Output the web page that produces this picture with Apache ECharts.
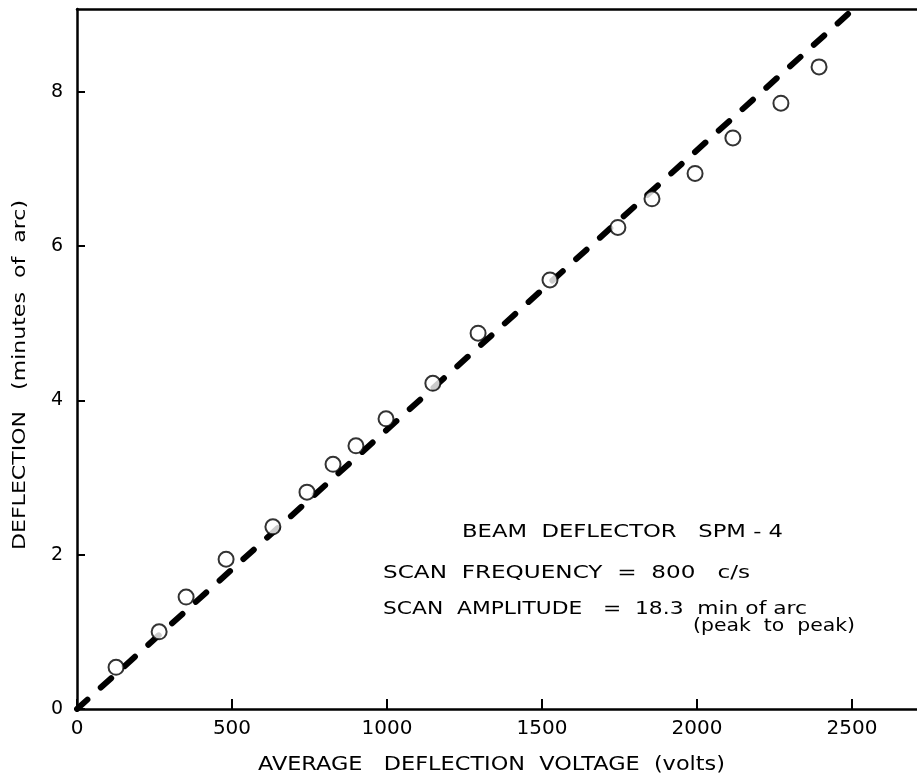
<!DOCTYPE html>
<html>
<head>
<meta charset="utf-8">
<script src="https://cdn.jsdelivr.net/npm/echarts@6/dist/echarts.min.js"></script>
<style>
  html, body { margin: 0; padding: 0; background: #fff; }
  #chart { width: 917px; height: 775px; }
</style>
</head>
<body>
<div id="chart"></div>
<script>
// Measured beam deflection vs. average deflection voltage
const voltage = [126, 265, 352, 481, 632, 742, 826, 900, 997, 1148, 1294, 1526, 1745, 1855, 1994, 2116, 2271, 2394];
const deflection = [0.54, 1.00, 1.45, 1.94, 2.36, 2.81, 3.17, 3.41, 3.76, 4.22, 4.87, 5.56, 6.24, 6.61, 6.94, 7.40, 7.85, 8.32];

// Straight-line fit through the origin (end points)
const fitVoltage = [0, 2500];
const fitDeflection = [0, 9.05];

const xTicks = [0, 500, 1000, 1500, 2000, 2500];
const yTicks = [0, 2, 4, 6, 8];

const xTitle = 'AVERAGE   DEFLECTION  VOLTAGE  (volts)';
const yTitle = 'DEFLECTION   (minutes  of  arc)';
const notes = [
  'BEAM  DEFLECTOR   SPM - 4',
  'SCAN  FREQUENCY  =  800   c/s',
  'SCAN  AMPLITUDE   =  18.3  min of arc',
  '(peak  to  peak)'
];

const ink = '#000';
const FAMILY = '"DejaVu Sans"';

// Horizontally stretched text: the lettering is wide and loosely spaced,
// so each line is scaled along its baseline to a given span.
const measureCtx = document.createElement('canvas').getContext('2d');
function wideText(text, x, y, span, size, rotation) {
  const font = size + 'px ' + FAMILY;
  measureCtx.font = font;
  const w = measureCtx.measureText(text).width;
  return {
    type: 'text',
    x: x, y: y,
    rotation: rotation || 0,
    scaleX: span / w,
    silent: true,
    style: {
      text: text, font: font, fill: ink,
      x: 0, y: 0,
      align: rotation ? 'center' : 'left',
      verticalAlign: 'middle'
    }
  };
}

const chart = echarts.init(document.getElementById('chart'));

chart.setOption({
  backgroundColor: '#fff',
  animation: false,
  grid: { left: 77, right: 0, top: 9, bottom: 66, containLabel: false, outerBoundsMode: 'none' },
  xAxis: [{
    type: 'value',
    min: 0,
    max: 2710,
    interval: 500,
    axisLine: { show: true, onZero: false, lineStyle: { color: ink, width: 2.5 } },
    axisTick: { show: true, inside: true, length: 10, customValues: xTicks, lineStyle: { color: ink, width: 2 } },
    axisLabel: {
      color: ink, fontFamily: FAMILY, fontSize: 20, margin: 10,
      customValues: xTicks,
      formatter: v => String(v)
    },
    splitLine: { show: false }
  }, {
    type: 'value',
    position: 'top',
    min: 0,
    max: 2710,
    axisLine: { show: true, onZero: false, lineStyle: { color: ink, width: 2.5 } },
    axisTick: { show: false },
    axisLabel: { show: false },
    splitLine: { show: false }
  }],
  yAxis: {
    type: 'value',
    min: 0,
    max: 9.07,
    interval: 2,
    axisLine: { show: true, onZero: false, lineStyle: { color: ink, width: 2.5 } },
    axisTick: { show: true, inside: true, length: 8, customValues: yTicks, lineStyle: { color: ink, width: 2 } },
    axisLabel: {
      color: ink, fontFamily: FAMILY, fontSize: 19, margin: 14,
      customValues: yTicks,
      formatter: v => String(v)
    },
    splitLine: { show: false }
  },
  series: [{
    type: 'line',
    data: fitVoltage.map((v, i) => [v, fitDeflection[i]]),
    showSymbol: false,
    lineStyle: { color: ink, width: 6, type: [14, 18], cap: 'round' },
    z: 2
  }, {
    type: 'scatter',
    data: voltage.map((v, i) => [v, deflection[i]]),
    symbol: 'circle',
    symbolSize: 15,
    itemStyle: { color: '#fff', borderColor: ink, borderWidth: 2 },
    z: 3
  }],
  graphic: [
    wideText(xTitle, 258, 765, 467, 19),
    wideText(yTitle, 20, 375, 350, 18, Math.PI / 2),
    wideText(notes[0], 462, 532, 321, 18),
    wideText(notes[1], 383, 573, 367, 18),
    wideText(notes[2], 383, 609, 424, 18),
    wideText(notes[3], 693, 626, 162, 18)
  ]
});
</script>
</body>
</html>
